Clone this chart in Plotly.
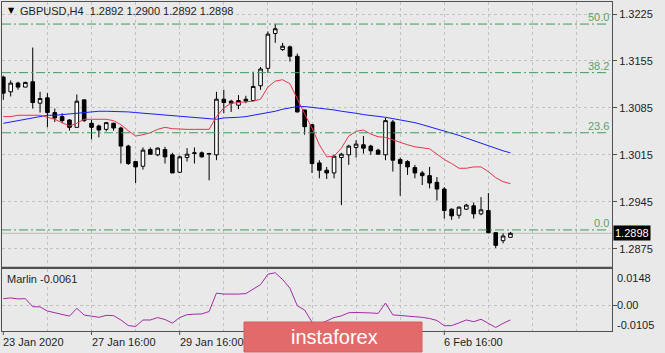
import plotly.graph_objects as go

W, H = 665, 353

# ---------------- data ----------------
bar_index = list(range(70))

opens = [1.3131,1.3109,1.3122,1.3116,1.3124,1.3092,1.3100,1.3078,1.3072,1.3067,
         1.3056,1.3097,1.3062,1.3058,1.3053,1.3062,1.3055,1.3028,1.3005,1.2998,
         1.3023,1.3015,1.3023,1.3015,1.2989,1.3011,1.3017,1.3018,1.3016,1.3015,
         1.3098,1.3095,1.3089,1.3098,1.3096,1.3118,1.3144,1.3196,1.3172,1.3176,
         1.3162,1.3082,1.3060,1.3003,1.2992,1.2988,1.3011,1.3015,1.3026,1.3030,
         1.3028,1.3022,1.3015,1.3064,1.3008,1.3005,1.2996,1.2988,1.2984,1.2974,
         1.2964,1.2934,1.2925,1.2934,1.2939,1.2927,1.2932,1.2899,1.2887,1.2892]
highs = [1.3133,1.3126,1.3124,1.3124,1.3175,1.3109,1.3107,1.3084,1.3077,1.3068,
         1.3105,1.3097,1.3067,1.3060,1.3064,1.3063,1.3057,1.3030,1.3005,1.3026,
         1.3026,1.3026,1.3027,1.3018,1.3014,1.3025,1.3026,1.3020,1.3018,1.3109,
         1.3112,1.3097,1.3104,1.3103,1.3139,1.3146,1.3199,1.3210,1.3182,1.3178,
         1.3166,1.3082,1.3060,1.3007,1.2997,1.3015,1.3018,1.3030,1.3037,1.3043,
         1.3030,1.3024,1.3070,1.3067,1.3011,1.3007,1.3000,1.2991,1.2997,1.2982,
         1.2967,1.2935,1.2938,1.2942,1.2944,1.2952,1.2958,1.2899,1.2898,1.2900]
lows = [1.3097,1.3102,1.3112,1.3116,1.3084,1.3078,1.3056,1.3064,1.3062,1.3051,
        1.3056,1.3064,1.3038,1.3041,1.3050,1.3051,1.3002,1.3000,1.2973,1.2993,
        1.3015,1.3013,1.3002,1.2988,1.2988,1.3005,1.3002,1.3011,1.2977,1.3007,
        1.3077,1.3079,1.3083,1.3092,1.3095,1.3112,1.3137,1.3182,1.3170,1.3154,
        1.3078,1.3045,1.2988,1.2980,1.2979,1.2980,1.2940,1.3000,1.3011,1.3017,
        1.3015,1.3015,1.3007,1.2990,1.2954,1.2985,1.2980,1.2970,1.2965,1.2947,
        1.2920,1.2918,1.2920,1.2933,1.2920,1.2925,1.2898,1.2876,1.2883,1.2892]
closes = [1.3107,1.3122,1.3116,1.3123,1.3093,1.3099,1.3078,1.3070,1.3066,1.3056,
          1.3095,1.3066,1.3056,1.3052,1.3063,1.3055,1.3028,1.3002,1.2997,1.3022,
          1.3016,1.3025,1.3012,1.2988,1.3012,1.3016,1.3018,1.3012,1.3017,1.3098,
          1.3093,1.3092,1.3096,1.3095,1.3117,1.3143,1.3195,1.3203,1.3177,1.3162,
          1.3079,1.3057,1.3002,1.2992,1.2988,1.3013,1.3016,1.3028,1.3031,1.3025,
          1.3021,1.3016,1.3066,1.3007,1.3002,1.2997,1.2988,1.2984,1.2973,1.2964,
          1.2932,1.2924,1.2937,1.2940,1.2927,1.2933,1.2899,1.2880,1.2894,1.2898]

ma_fast = [1.3072,1.3072,1.3074,1.3074,1.3074,1.3074,1.3071,1.3068,1.3063,1.3058,
           1.3062,1.3068,1.3068,1.3068,1.3068,1.3066,1.3060,1.3051,1.3043,1.3045,
           1.3048,1.3053,1.3056,1.3054,1.3053,1.3053,1.3053,1.3053,1.3053,1.3072,
           1.3085,1.3092,1.3093,1.3094,1.3095,1.3098,1.3116,1.3125,1.3127,1.3121,
           1.3098,1.3076,1.3055,1.3030,1.3012,1.3013,1.3025,1.3043,1.3050,1.3052,
           1.3046,1.3042,1.3041,1.3037,1.3033,1.3030,1.3027,1.3026,1.3024,1.3016,
           1.3008,1.3002,1.2995,1.2995,1.2997,1.2997,1.2990,1.2981,1.2975,1.2972]
ma_slow = [1.3062,1.3064,1.3066,1.3068,1.3070,1.3072,1.3074,1.3074,1.3075,1.3076,
           1.3077,1.3079,1.3080,1.3080,1.3080,1.3080,1.3080,1.3079,1.3078,1.3077,
           1.3076,1.3075,1.3074,1.3073,1.3072,1.3071,1.3070,1.3069,1.3068,1.3068,
           1.3070,1.3070,1.3071,1.3072,1.3074,1.3075,1.3077,1.3080,1.3083,1.3085,
           1.3087,1.3087,1.3086,1.3085,1.3083,1.3082,1.3080,1.3079,1.3077,1.3075,
           1.3074,1.3072,1.3071,1.3069,1.3067,1.3066,1.3063,1.3060,1.3057,1.3054,
           1.3051,1.3048,1.3044,1.3040,1.3036,1.3032,1.3028,1.3024,1.3021,1.3018]
marlin = [0.0027,0.0030,0.0026,0.0027,-0.0006,-0.0007,-0.0024,-0.0031,-0.0035,-0.0045,
          -0.0013,-0.0041,-0.0045,-0.0050,-0.0042,-0.0043,-0.0061,-0.0084,-0.0088,-0.0061,
          -0.0061,-0.0051,-0.0059,-0.0074,-0.0051,-0.0039,-0.0037,-0.0036,-0.0026,0.0050,
          0.0046,0.0045,0.0046,0.0048,0.0068,0.0085,0.0128,0.0134,0.0106,0.0070,
          -0.0002,-0.0020,-0.0070,-0.0077,-0.0065,-0.0051,-0.0044,-0.0031,-0.0030,-0.0030,
          -0.0032,-0.0034,0.0009,-0.0040,-0.0042,-0.0045,-0.0047,-0.0050,-0.0055,-0.0063,
          -0.0085,-0.0084,-0.0073,-0.0061,-0.0068,-0.0058,-0.0075,-0.0092,-0.0075,-0.0061]

price_ticks = [1.3225, 1.3155, 1.3085, 1.3015, 1.2945, 1.2875]
marlin_ticks = [0.0148, 0.0, -0.0105]
grid_bars = list(range(6, 80, 6))
label_bars = [0, 12, 24, 60]
label_text = ["23 Jan 2020", "27 Jan 16:00", "29 Jan 16:00", "6 Feb 16:00"]
fib_levels = [0.0, 23.6, 38.2, 50.0]
fib_low, fib_high = 1.2903, 1.3517
symbol = "GBPUSD,H4"

# ---------------- style ----------------
BG = "#e9e9e9"
GRID = "#c2c2c2"
AX = "#505050"
TXT = "#1e1e1e"
FONT = "Liberation Sans"

def px_x(p):
    return p / W

def px_y(p):
    return 1 - p / H

x_dom = [px_x(2), px_x(612)]
main_dom = [px_y(266.5), px_y(2)]
sub_dom = [px_y(331), px_y(269)]

fig = go.Figure()
fig.add_trace(go.Candlestick(
    x=bar_index, open=opens, high=highs, low=lows, close=closes,
    increasing=dict(fillcolor="white", line=dict(color="black", width=1)),
    decreasing=dict(fillcolor="black", line=dict(color="black", width=1)),
    whiskerwidth=0, showlegend=False, hoverinfo="skip", xaxis="x", yaxis="y"))
fig.add_trace(go.Scatter(x=bar_index, y=ma_slow, mode="lines",
                         line=dict(color="#1c1cff", width=1), showlegend=False,
                         hoverinfo="skip", xaxis="x", yaxis="y"))
fig.add_trace(go.Scatter(x=bar_index, y=ma_fast, mode="lines",
                         line=dict(color="#e8334f", width=1), showlegend=False,
                         hoverinfo="skip", xaxis="x", yaxis="y"))
fig.add_trace(go.Scatter(x=bar_index, y=marlin, mode="lines",
                         line=dict(color="#a52aa5", width=1), showlegend=False,
                         hoverinfo="skip", xaxis="x2", yaxis="y2"))

xr = [-0.18, 82.82]
common_x = dict(domain=x_dom, range=xr, showgrid=True, gridcolor=GRID,
                griddash="3px,3px", gridwidth=1, tickmode="array",
                tickvals=grid_bars, showticklabels=False, ticks="",
                zeroline=False, showline=True, linecolor=AX, linewidth=1,
                mirror=True, fixedrange=True)

fig.update_layout(
    width=W, height=H, margin=dict(l=0, r=0, t=0, b=0),
    paper_bgcolor=BG, plot_bgcolor=BG, showlegend=False,
    font=dict(family=FONT, size=11, color=TXT),
    xaxis=dict(anchor="y", rangeslider=dict(visible=False), **common_x),
    xaxis2=dict(anchor="y2", matches="x", **common_x),
    yaxis=dict(anchor="x", domain=main_dom, range=[1.28485, 1.32429],
               side="right", tickmode="array", tickvals=price_ticks,
               ticktext=[f"{v:.4f}" for v in price_ticks],
               ticks="outside", ticklen=4, tickcolor=AX,
               showgrid=True, gridcolor=GRID, griddash="3px,3px",
               zeroline=False, showline=True, linecolor=AX, mirror=True,
               tickfont=dict(family=FONT, size=11, color=TXT), fixedrange=True),
    yaxis2=dict(anchor="x2", domain=sub_dom, range=[-0.01065, 0.01495],
                side="right", tickmode="array", tickvals=[0.0],
                showticklabels=False, ticks="outside", ticklen=4, tickcolor=AX,
                showgrid=True, gridcolor=GRID, griddash="3px,3px",
                zeroline=False, showline=True, linecolor=AX, mirror=True,
                fixedrange=True),
)

shapes = []
annotations = []

# separator between panels
shapes.append(dict(type="rect", xref="paper", yref="paper",
                   x0=px_x(2), x1=px_x(612), y0=px_y(269), y1=px_y(266.5),
                   fillcolor="#9a9a9a", line=dict(width=0), layer="below"))

# bid line
shapes.append(dict(type="line", xref="x domain", yref="y", x0=0, x1=1,
                   y0=closes[-1], y1=closes[-1], line=dict(color="#bcbcbc", width=1),
                   layer="below"))

# fibonacci levels
for lv in fib_levels:
    py = fib_low + lv / 100.0 * (fib_high - fib_low)
    shapes.append(dict(type="line", xref="x domain", yref="y", x0=0, x1=0.992,
                       y0=py, y1=py,
                       line=dict(color="#3f9a5c", width=1, dash="9px,3px,2px,3px")))
    annotations.append(dict(x=px_x(611), xref="paper", y=py, yref="y",
                            text=f"{lv:.1f}", showarrow=False, xanchor="right",
                            yanchor="bottom", yshift=-1,
                            font=dict(family=FONT, size=11, color="#5aa36f")))

# current price box
annotations.append(dict(x=px_x(613), xref="paper", y=closes[-1], yref="y",
                        text=f"{closes[-1]:.4f}", showarrow=False, xanchor="left",
                        yanchor="middle", bgcolor="black", borderpad=1,
                        font=dict(family=FONT, size=11, color="white")))

# title
annotations.append(dict(x=px_x(6), xref="paper", y=px_y(11), yref="paper",
                        text="▼", showarrow=False, xanchor="left", yanchor="middle",
                        font=dict(family="DejaVu Sans", size=8, color="black")))
title_txt = f"{symbol}  {opens[-1]:.4f} {highs[-1]:.4f} {lows[-1]:.4f} {closes[-1]:.4f}"
annotations.append(dict(x=px_x(18), xref="paper", y=px_y(11), yref="paper",
                        text=title_txt, showarrow=False, xanchor="left", yanchor="middle",
                        font=dict(family=FONT, size=11, color=TXT)))
annotations.append(dict(x=px_x(5), xref="paper", y=px_y(279), yref="paper",
                        text=f"Marlin {marlin[-1]:.4f}", showarrow=False, xanchor="left",
                        yanchor="middle", font=dict(family=FONT, size=11, color=TXT)))

# marlin axis labels
shifts = [-9, 0, 6]
for v, s in zip(marlin_ticks, shifts):
    lab = f"{v:.4f}" if v != 0 else "0.00"
    annotations.append(dict(x=px_x(615), xref="paper", y=v, yref="y2", yshift=s,
                            text=lab, showarrow=False, xanchor="left", yanchor="middle",
                            font=dict(family=FONT, size=11, color=TXT)))

# time labels
for b, t in zip(label_bars, label_text):
    shapes.append(dict(type="line", xref="x2", yref="paper", x0=b, x1=b,
                       y0=px_y(331), y1=px_y(335), line=dict(color=AX, width=1)))
    annotations.append(dict(x=b, xref="x2", y=px_y(342), yref="paper", text=t,
                            showarrow=False, xanchor="left", yanchor="middle", xshift=-2,
                            font=dict(family=FONT, size=11, color=TXT)))

# watermark
shapes.append(dict(type="rect", xref="paper", yref="paper",
                   x0=px_x(244), x1=px_x(422), y0=px_y(352), y1=px_y(322),
                   fillcolor="#e36a6a", line=dict(color="#d85c5c", width=1), layer="above"))
annotations.append(dict(x=px_x(289), xref="paper", y=px_y(337), yref="paper",
                        text="instaforex", showarrow=False, xanchor="left", yanchor="middle",
                        font=dict(family="Liberation Sans", size=20, color="white")))

fig.update_layout(shapes=shapes, annotations=annotations)
fig.write_html("out.html")
